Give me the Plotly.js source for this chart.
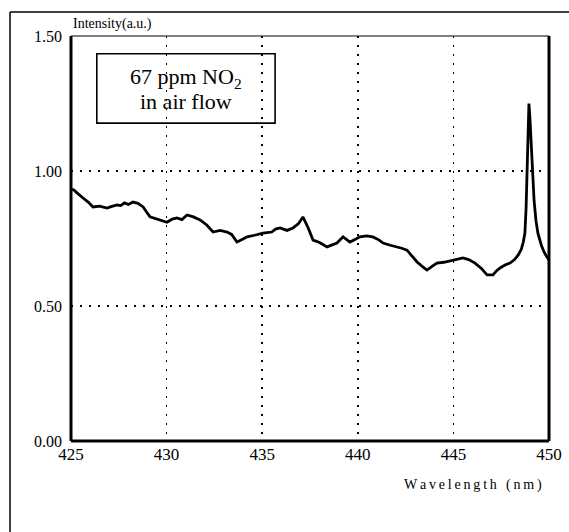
<!DOCTYPE html>
<html>
<head>
<meta charset="utf-8">
<script src="https://cdn.plot.ly/plotly-3.0.1.min.js"></script>
<style>html,body{margin:0;padding:0;background:#fff;}#chart{width:569px;height:532px;}</style>
</head>
<body>
<div id="chart"></div>
<script>
var wavelength = [425.0, 425.15, 425.3, 425.45, 425.63, 425.9, 426.15, 426.5, 426.88, 427.1, 427.41, 427.6, 427.8, 428.0, 428.24, 428.5, 428.77, 429.13, 429.5, 430.02, 430.3, 430.54, 430.8, 431.07, 431.4, 431.75, 432.1, 432.43, 432.8, 433.16, 433.4, 433.68, 434.0, 434.21, 434.6, 435.04, 435.5, 435.7, 435.93, 436.3, 436.61, 436.9, 437.13, 437.4, 437.66, 438.0, 438.39, 438.7, 438.91, 439.23, 439.59, 439.9, 440.11, 440.45, 440.79, 441.1, 441.32, 441.7, 442.05, 442.3, 442.57, 442.85, 443.1, 443.4, 443.62, 443.9, 444.14, 444.5, 444.82, 445.2, 445.5, 445.8, 446.13, 446.45, 446.76, 447.07, 447.25, 447.44, 447.7, 447.96, 448.2, 448.4, 448.55, 448.65, 448.74, 448.8, 448.85, 448.9, 448.95, 449.0, 449.06, 449.12, 449.22, 449.32, 449.42, 449.6, 449.74, 449.88, 450.0];
var intensity = [0.933, 0.93, 0.92, 0.91, 0.90, 0.885, 0.867, 0.87, 0.863, 0.868, 0.874, 0.872, 0.882, 0.876, 0.885, 0.88, 0.867, 0.83, 0.822, 0.81, 0.822, 0.826, 0.82, 0.837, 0.83, 0.819, 0.80, 0.774, 0.78, 0.774, 0.765, 0.737, 0.748, 0.756, 0.762, 0.77, 0.774, 0.785, 0.789, 0.78, 0.789, 0.805, 0.83, 0.79, 0.744, 0.735, 0.719, 0.726, 0.733, 0.756, 0.737, 0.748, 0.756, 0.76, 0.756, 0.745, 0.733, 0.725, 0.719, 0.714, 0.707, 0.685, 0.663, 0.645, 0.633, 0.648, 0.659, 0.662, 0.667, 0.672, 0.678, 0.672, 0.659, 0.64, 0.615, 0.615, 0.63, 0.641, 0.652, 0.659, 0.672, 0.69, 0.71, 0.735, 0.77, 0.86, 1.015, 1.17, 1.25, 1.2, 1.11, 1.0, 0.89, 0.815, 0.77, 0.725, 0.70, 0.683, 0.67];
var xTicks = [425, 430, 435, 440, 445, 450];
var xTickLabels = ["425", "430", "435", "440", "445", "450"];
var yTicks = [0, 0.5, 1.0, 1.5];
var yTickLabels = ["0.00", "0.50", "1.00", "1.50"];

var serif = "Liberation Serif, Times New Roman, serif";
var trace = {
  x: wavelength, y: intensity, type: "scatter", mode: "lines",
  line: {color: "#000", width: 2.8}, hoverinfo: "skip"
};
var layout = {
  width: 569, height: 532,
  margin: {l: 71, r: 20, t: 36, b: 91},
  paper_bgcolor: "#fff", plot_bgcolor: "#fff",
  showlegend: false,
  font: {family: serif, color: "#000", size: 16},
  xaxis: {
    range: [425, 450], tickvals: xTicks, ticktext: xTickLabels,
    showgrid: true, gridcolor: "#000", gridwidth: 1.6, griddash: "2px,7px",
    zeroline: false, showline: false, ticks: "", ticklabelstandoff: 1,
    tickfont: {family: serif, size: 17, color: "#000"}
  },
  yaxis: {
    range: [0, 1.5], tickvals: yTicks, ticktext: yTickLabels,
    showgrid: true, gridcolor: "#000", gridwidth: 1.6, griddash: "2px,7px",
    zeroline: false, showline: false, ticks: "", ticklabelstandoff: 8,
    tickfont: {family: serif, size: 16, color: "#000"}
  },
  shapes: [
    {type: "line", xref: "paper", yref: "paper", x0: 0, x1: 1, y0: 1, y1: 1, line: {color: "#000", width: 1}},
    {type: "line", xref: "paper", yref: "paper", x0: 0, x1: 0, y0: 0, y1: 1, line: {color: "#000", width: 3}},
    {type: "line", xref: "paper", yref: "paper", x0: 0, x1: 1, y0: 0, y1: 0, line: {color: "#000", width: 3}},
    {type: "line", xref: "paper", yref: "paper", x0: 1, x1: 1, y0: 0, y1: 1, line: {color: "#000", width: 3}},
    {type: "line", xref: "paper", yref: "paper", x0: -0.1276, x1: 1.05, y0: 1.059, y1: 1.059, line: {color: "#000", width: 1.5}},
    {type: "line", xref: "paper", yref: "paper", x0: -0.1276, x1: -0.1276, y0: 1.059, y1: -0.23, line: {color: "#000", width: 1.5}},
    {type: "rect", xref: "paper", yref: "paper", x0: 0.054, x1: 0.427, y0: 0.785, y1: 0.956, line: {color: "#000", width: 1.6}, fillcolor: "rgba(0,0,0,0)"}
  ],
  annotations: [
    {xref: "paper", yref: "paper", x: 0.0, y: 1.0, xanchor: "left", yanchor: "bottom", yshift: 2, showarrow: false,
     text: "Intensity(a.u.)", font: {family: serif, size: 14, color: "#000"}},
    {xref: "paper", yref: "paper", x: 0.99, y: -0.085, xanchor: "right", yanchor: "top", showarrow: false,
     text: "W\u2009a\u2009v\u2009e\u2009l\u2009e\u2009n\u2009g\u2009t\u2009h\u2009 \u2009(\u2009n\u2009m\u2009)", font: {family: serif, size: 14, color: "#000"}},
    {xref: "paper", yref: "paper", x: 0.2405, y: 0.896, xanchor: "center", yanchor: "middle", showarrow: false,
     text: "67 ppm NO<sub>2</sub>", font: {family: serif, size: 22, color: "#000"}},
    {xref: "paper", yref: "paper", x: 0.2405, y: 0.838, xanchor: "center", yanchor: "middle", showarrow: false,
     text: "in air flow", font: {family: serif, size: 22, color: "#000"}}
  ]
};
Plotly.newPlot("chart", [trace], layout, {staticPlot: true, displayModeBar: false});
</script>
</body>
</html>
